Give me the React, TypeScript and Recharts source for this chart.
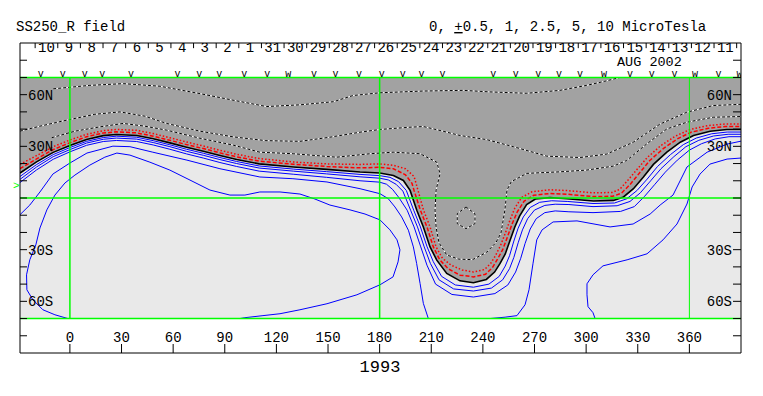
import React from "react";
import {
  ComposedChart,
  XAxis,
  YAxis,
  Line,
  Area,
  Scatter,
  ReferenceArea,
  ReferenceLine,
} from "recharts";

const MONO = '"Liberation Mono", "DejaVu Sans Mono", monospace';

type Pt = [number, number];

// Carrington longitude / latitude of each contour
const neutralLine: Pt[] = [[-29,14.5],[-19.4,21],[-9.7,26.5],[0,30.5],[9.7,34],[19.4,36.2],[27,36.9],[38.8,36.3],[48.4,34.4],[58.1,32],[67.8,29.5],[77.5,27.2],[87.2,24.7],[96.9,22.4],[110,19.8],[129.8,18],[149.2,16.6],[168.6,15.1],[180,14.5],[188,13.1],[193.8,10.2],[197.7,4.4],[201.6,-7.1],[205.4,-16.8],[209.3,-28.4],[213.2,-36.1],[219,-43.8],[226.7,-48.1],[234.5,-49.2],[242,-47.3],[246.8,-43],[250,-38],[253,-32.5],[255.8,-24.5],[258.5,-17],[261.3,-10.5],[265.4,-3.8],[270.5,-0.6],[279,0.2],[288.8,-0.4],[304.3,-1.7],[315.9,-1.4],[321.7,0.6],[327.5,5.4],[333.3,12.2],[339.1,19.5],[346.9,26.6],[354.7,32.4],[362.4,36.3],[372.1,38.8],[381.8,39.8],[390,39.8]];

const redInner: Pt[] = [[-29,17],[-19.4,22.7],[-9.7,28.1],[0,32.1],[9.7,35.6],[19.4,37.7],[27,38.4],[38.8,37.8],[48.4,35.9],[58.1,33.5],[67.8,31],[77.5,28.7],[87.2,26.2],[96.9,23.9],[110,21.4],[129.8,19.6],[149.2,18.3],[168.6,17.5],[180,17.8],[188,17],[195,13.5],[198.8,8.5],[200,4.4],[203.7,-7.1],[207.5,-16.8],[211.2,-28.4],[215,-36],[220,-41.2],[226.7,-44.8],[234.5,-45.8],[241.5,-44.3],[245.5,-40.5],[248.5,-35.5],[251.5,-30],[254.3,-22.5],[257,-15],[260,-8],[264,-1.8],[269.5,1.6],[279,2.6],[289,2.2],[304,0.8],[315.5,1],[320.5,2.8],[325.5,7.8],[331,14.5],[337,21.8],[345,28.8],[353,34.3],[361,38.2],[371,40.5],[381,41.5],[390,41.5]];

const redOuter: Pt[] = [[-29,19.5],[-19.4,24.6],[-9.7,29.8],[0,33.7],[9.7,37],[19.4,39.1],[27,39.8],[38.8,39.3],[48.4,37.4],[58.1,35],[67.8,32.5],[77.5,30.2],[87.2,27.7],[96.9,25.4],[110,22.9],[129.8,20.9],[149.2,19.8],[168.6,19.5],[180,19.8],[188,19],[195,17],[200,12.5],[202.3,4.4],[205.5,-7.1],[209.3,-16.8],[212.8,-28.4],[216.5,-35],[221.5,-39],[228,-41.8],[234.5,-43],[241,-41.5],[244.5,-38],[247.3,-33.5],[250.3,-27.5],[253,-20.5],[255.7,-13],[258.5,-6],[262.5,0.3],[268.5,3.6],[279,4.8],[289,4.3],[304,3],[315,3.2],[319.5,5],[324,10],[329.5,16.5],[335.5,23.5],[343.5,30.5],[352,36],[360.5,39.8],[370.5,42],[381,43],[390,43]];

const blue1: Pt[] = [[-29,12.5],[-19.4,19.4],[-9.7,25.2],[0,29.3],[9.7,32.9],[19.4,35.1],[27,35.9],[38.8,35.3],[48.4,33.3],[58.1,30.9],[67.8,28.3],[77.5,26],[87.2,23.5],[96.9,21.2],[110,18.6],[129.8,16.8],[149.2,15.3],[168.6,13.7],[180,13],[186,12],[191,9.5],[195.5,4.4],[199.8,-7.1],[203.7,-16.8],[207.6,-28.4],[211.2,-37],[216,-45.5],[224,-50.5],[234.5,-51.8],[243.5,-50],[249.5,-45.5],[253,-39.5],[255.5,-33.5],[258,-25],[260.5,-17.5],[263.5,-11],[267.5,-5.5],[273,-2.5],[280,-1.6],[289,-2],[304,-3.2],[316.5,-2.9],[323.5,-0.5],[329.5,4.3],[335.5,11],[341.5,18.3],[349,25.2],[356.5,31],[364,34.8],[373,37.3],[382,38.3],[390,38.3]];

const blue2: Pt[] = [[-29,10.8],[-19.4,18],[-9.7,24],[0,28.1],[9.7,31.9],[19.4,34.1],[27,34.8],[38.8,34.2],[48.4,32.2],[58.1,29.8],[67.8,27.1],[77.5,24.8],[87.2,22.3],[96.9,20],[110,17.4],[129.8,15.6],[149.2,14],[168.6,12.3],[180,11.5],[185,10.5],[189.5,8],[193.5,4],[198,-7.1],[202,-16.8],[205.9,-28.4],[209.5,-38],[214.5,-47.5],[223,-52.8],[234.5,-54],[245,-52.3],[251.5,-47.5],[255.5,-41],[258,-34.5],[260.5,-26],[263,-18.5],[266,-12],[270,-7],[276,-4.3],[282,-3.6],[290,-3.8],[304,-5],[318,-4.5],[325.5,-2],[331.5,3],[337.5,10],[343.5,17],[351,24],[358,29.8],[365.5,33.5],[374,36],[382.5,37],[390,37]];

const blue3: Pt[] = [[-29,9],[-19.4,16.3],[-9.7,22.5],[0,26.8],[9.7,30.6],[19.4,32.8],[27,33.4],[38.8,32.8],[48.4,30.8],[58.1,28.3],[67.8,25.6],[77.5,23.2],[87.2,20.6],[96.9,18.3],[110,15.6],[129.8,13.8],[149.2,12],[168.6,10],[180,9.2],[184,8],[187.5,5],[191,0.5],[196,-7.1],[200,-16.8],[203.9,-28.4],[207.5,-39],[212.5,-50],[222,-56],[234.5,-57.5],[247,-55.5],[254.5,-50.5],[259,-43],[262,-35],[264.5,-26.5],[267.5,-18],[271,-12],[276,-8.5],[282,-7.5],[290,-8],[304,-8.5],[320,-7.8],[328,-5],[334,1],[340,8],[346,15],[353,22],[360,27.8],[367,31.5],[375,34.3],[383,35.6],[390,35.6]];

const blue4: Pt[] = [[-29.1,-9.8],[-23.3,-4.1],[-17.4,3.5],[-9.9,13.9],[0,20.3],[9.9,26.1],[25,30.1],[34.9,29.8],[48.2,26.6],[68,22],[87.2,17],[110.4,12.2],[129.6,11.2],[149.4,9.3],[168.6,5.4],[180.2,2.5],[185,-0.4],[188.9,-5.2],[192.8,-11],[196.7,-18.7],[199.6,-28.4],[201.5,-38],[203.5,-49.6],[205.4,-61.2],[208.3,-70]];

const blue5: Pt[] = [[-1.2,-70],[-8.7,-67.8],[-15.7,-64.9],[-21.5,-59.1],[-25,-53.3],[-25.2,-44.6],[-23.3,-35.9],[-19.8,-27.2],[-17.4,-17.4],[-13.4,-6.9],[-8.7,1.7],[-2.9,8.7],[2.9,13.3],[11.6,19.1],[20.3,23.7],[27.3,26.1],[34.9,24.9],[46.5,20.8],[58.1,16.2],[69.8,10.4],[81.4,4.6],[93,1.7],[101.7,1.7],[110.4,3.5],[122.1,3.5],[133.7,2.3],[142.4,-0.6],[151.1,-4.1],[162.8,-6.9],[171.5,-9.3],[180.2,-12.7],[186,-18.5],[190.1,-24.3],[191.8,-30.1],[190.7,-37.1],[187.8,-45.8],[180.2,-50.4],[166.8,-56.2],[149.4,-61.4],[133.7,-64.9],[122.1,-67.2],[112.2,-68.3],[101.7,-69.5],[98.8,-70]];

const blue6: Pt[] = [[244.1,-70],[252.9,-69.2],[259.8,-68.3],[264.5,-62],[266.8,-53.3],[269.1,-38.2],[271.3,-24.3],[274.4,-18.5],[280.8,-13.9],[294.7,-13.3],[313.9,-16.8],[327.3,-15.1],[337.2,-9.3],[343,-4.1],[350.5,1.7],[358.6,18],[370.3,26.6],[381.9,31.3],[390,33]];

const blue7: Pt[] = [[305.2,-70],[304,-66.6],[301.1,-63.1],[300.5,-56.2],[300.5,-49.8],[304,-44.6],[309.8,-39.4],[323.8,-35.9],[335.4,-32.4],[344.7,-24.3],[352.8,-15.1],[358.6,-3.5],[361.6,6.4],[366.2,13.9],[372,19.7],[381.9,22.6],[390,23.2]];

const dash1: Pt[] = [[-10.6,35],[2.9,38.8],[17.4,41.3],[31,43.3],[43.6,41.7],[56.2,39.4],[75.6,34.7],[94.9,30.7],[110.4,26.6],[129.8,25.7],[155,23.7],[174.4,25.7],[187.9,26.6],[203.5,25.7],[213.2,20.8],[215.1,14.1],[212.8,4.6],[212.2,-7],[212.8,-17],[214.5,-26],[219,-33.1],[226,-35.5],[234,-35.8],[242.2,-31.5],[247.5,-26],[250.5,-20.4],[252.8,-6.9],[254,4.6],[256.5,9.5],[265.5,14.3],[284.8,15.2],[300.3,16.2],[315.8,18.5],[323.6,21.8],[335.2,31.4],[346.9,40.1],[358.5,44],[373.9,46.9],[390,47.3]];

const dash2: Pt[] = [[-29.1,38.8],[-17.4,41.7],[-1.9,45.2],[14.5,48.6],[29.1,50],[43.6,47.5],[56.2,43.3],[75.6,38.8],[94.9,35.5],[113.9,33.3],[133.7,32.9],[151.1,35.3],[168.6,38.2],[180.2,39.8],[197.6,41.1],[205.4,41.5],[215.1,39.2],[226.7,36.3],[242.2,33.9],[257.7,29.8],[277.1,24.3],[296.5,23.5],[312,25.5],[327.4,32.4],[342.9,42.9],[358.5,49.8],[373.9,53.7],[390,54.4]];

const dash3: Pt[] = [[-9.7,63.4],[11.6,65.4],[31,66.4],[52.3,64.9],[75.6,60.6],[94.8,56.8],[114.3,53.1],[133.7,54.1],[153.1,55.9],[164.5,59.5],[180.2,61.1],[205.4,62.1],[228.6,62.5],[244.1,61.6],[265.5,60.8],[284.8,62.5],[300.3,65.4],[310.9,67.8],[319.7,70]];

const dashLoop: Pt[] = [[230.2,-5.2],[235.4,-9.1],[235.4,-14.9],[230.2,-17.8],[225.1,-14.9],[225.1,-9.1],[230.2,-5.2]];

// observation markers above the map
const markLon = [-17, -4.2, 8.7, 18.8, 35.5, 62.6, 75.2, 86.8, 101.3, 114.7, 126.9, 141.8, 154.4, 168, 181.2, 193.4, 204.4, 216.6, 246.1, 259.1, 272.2, 284.3, 296.5, 310.4, 325.5, 338.1, 351.3, 363.3, 376.9, 389.1];
const markChar = ["v","v","v","v","v","v","v","v","v","v","w","v","v","v","v","v","v","v","v","v","v","v","v","w","v","v","v","w","v","w"];
const markLat = 70.4;

const lonTicks = [0, 30, 60, 90, 120, 150, 180, 210, 240, 270, 300, 330, 360];
const latTicks = [-80, -70, -60, -50, -40, -30, -20, -10, 0, 10, 20, 30, 40, 50, 60, 70, 80];
const latNames: Record<string, string> = { "60": "60N", "30": "30N", "-30": "30S", "-60": "60S" };

// day-of-month strip along the top (Aug/Sep 2002)
const dayBounds = [-20.2, -7.05, 6.1, 19.25, 32.4, 45.56, 58.71, 71.86, 85.01, 98.16, 111.31, 124.46, 137.61, 150.76, 163.91, 177.07, 190.22, 203.37, 216.52, 229.67, 242.82, 255.97, 269.12, 282.27, 295.42, 308.58, 321.73, 334.88, 348.03, 361.18, 374.33, 387.48];
const dayCenters = [-13.6, -0.5, 12.7, 25.8, 39.0, 52.1, 65.3, 78.4, 91.6, 104.7, 117.9, 131.0, 144.2, 157.3, 170.5, 183.6, 196.8, 209.9, 223.1, 236.2, 249.4, 262.5, 275.7, 288.8, 302.0, 315.1, 328.3, 341.4, 354.6, 367.7, 380.9];
const dayLabels = ["10","9","8","7","6","5","4","3","2","1","31","30","29","28","27","26","25","24","23","22","21","20","19","18","17","16","15","14","13","12","11"];
const dayLabelLat = 84.9;
const dayTickTop = 90;
const dayTickBottom = 87;

const rows = (pts: Pt[]) => pts.map(([lon, lat]) => ({ lon, lat }));
const markers = markLon.map((lon, i) => ({ lon, lat: markLat, ch: markChar[i] }));
const days = dayCenters.map((lon, i) => ({ lon, lat: dayLabelLat, ch: dayLabels[i] }));

const dashed = [dash1, dash2, dash3, dashLoop];
const blues = [blue1, blue2, blue3, blue4, blue5, blue6, blue7];

const GREEN = "#00ff00";

const TextShape = (size: number) => (props: any) => (
  <text x={props.cx} y={props.cy} textAnchor="middle" fontSize={size} fontFamily={MONO} fill="#000">
    {props.payload.ch}
  </text>
);

const tickStyle = { fontSize: 14, fontFamily: MONO, fill: "#000" };

export default function App() {
  return (
    <div style={{ position: "absolute", left: 0, top: 0, width: 763, height: 396, background: "#fff" }}>
      <ComposedChart width={763} height={396} margin={{ top: 43, right: 22, bottom: 43, left: 20 }}>
        <XAxis
          xAxisId="b"
          type="number"
          dataKey="lon"
          domain={[-29, 390]}
          allowDataOverflow
          orientation="bottom"
          mirror
          ticks={lonTicks}
          interval={0}
          tickSize={9}
          tickMargin={2}
          tick={tickStyle}
          axisLine={{ stroke: "#000" }}
          tickLine={{ stroke: "#000" }}
        />
        <YAxis
          yAxisId="l"
          type="number"
          dataKey="lat"
          domain={[-90, 90]}
          allowDataOverflow
          orientation="left"
          mirror
          ticks={latTicks}
          interval={0}
          tickSize={7}
          tickMargin={1}
          tick={tickStyle}
          tickFormatter={(v: number) => latNames[String(v)] ?? ""}
          axisLine={{ stroke: "#000" }}
          tickLine={{ stroke: "#000" }}
        />
        <YAxis
          yAxisId="r"
          type="number"
          domain={[-90, 90]}
          allowDataOverflow
          orientation="right"
          mirror
          ticks={latTicks}
          interval={0}
          tickSize={8}
          tickMargin={1}
          tick={tickStyle}
          tickFormatter={(v: number) => latNames[String(v)] ?? ""}
          axisLine={{ stroke: "#000" }}
          tickLine={{ stroke: "#000" }}
        />

        <ReferenceArea xAxisId="b" yAxisId="l" x1={-29} x2={390} y1={-70} y2={70} fill="#e9e9e9" fillOpacity={1} stroke="none" />
        <Area
          xAxisId="b"
          yAxisId="l"
          data={rows(neutralLine)}
          dataKey="lat"
          type="linear"
          baseValue={70}
          fill="#a2a2a2"
          fillOpacity={1}
          stroke="none"
          isAnimationActive={false}
        />

        {dashed.map((pts, i) => (
          <Line key={"w" + i} xAxisId="b" yAxisId="l" data={rows(pts)} dataKey="lat" type="linear"
            stroke="#fff" strokeWidth={1} dot={false} activeDot={false} isAnimationActive={false} />
        ))}
        {dashed.map((pts, i) => (
          <Line key={"d" + i} xAxisId="b" yAxisId="l" data={rows(pts)} dataKey="lat" type="linear"
            stroke="#000" strokeWidth={1} strokeDasharray="3 2" dot={false} activeDot={false} isAnimationActive={false} />
        ))}
        <Line xAxisId="b" yAxisId="l" data={rows(redOuter)} dataKey="lat" type="linear"
          stroke="#ff0000" strokeWidth={1.5} strokeDasharray="1.5 2" dot={false} activeDot={false} isAnimationActive={false} />
        <Line xAxisId="b" yAxisId="l" data={rows(redInner)} dataKey="lat" type="linear"
          stroke="#ff0000" strokeWidth={1.5} strokeDasharray="4 2" dot={false} activeDot={false} isAnimationActive={false} />
        {blues.map((pts, i) => (
          <Line key={"b" + i} xAxisId="b" yAxisId="l" data={rows(pts)} dataKey="lat" type="linear"
            stroke="#0000ff" strokeWidth={1} dot={false} activeDot={false} isAnimationActive={false} />
        ))}
        <Line xAxisId="b" yAxisId="l" data={rows(neutralLine)} dataKey="lat" type="linear"
          stroke="#000" strokeWidth={1.6} dot={false} activeDot={false} isAnimationActive={false} />

        <ReferenceLine xAxisId="b" yAxisId="l" y={70} stroke={GREEN} strokeWidth={1.5} />
        <ReferenceLine xAxisId="b" yAxisId="l" y={0} stroke={GREEN} strokeWidth={1.5} />
        <ReferenceLine xAxisId="b" yAxisId="l" y={-70} stroke={GREEN} strokeWidth={1.5} />
        <ReferenceLine xAxisId="b" yAxisId="l" segment={[{ x: 0, y: -70 }, { x: 0, y: 70 }]} stroke={GREEN} strokeWidth={1.5} />
        <ReferenceLine xAxisId="b" yAxisId="l" segment={[{ x: 180, y: -70 }, { x: 180, y: 70 }]} stroke={GREEN} strokeWidth={1.5} />
        <ReferenceLine xAxisId="b" yAxisId="l" segment={[{ x: 360, y: -70 }, { x: 360, y: 70 }]} stroke={GREEN} strokeWidth={1} />

        <ReferenceLine xAxisId="b" yAxisId="l" y={90} stroke="#000" strokeWidth={1} />
        {dayBounds.map((lon) => (
          <ReferenceLine key={"db" + lon} xAxisId="b" yAxisId="l"
            segment={[{ x: lon, y: dayTickTop }, { x: lon, y: dayTickBottom }]} stroke="#000" strokeWidth={1} />
        ))}

        <Scatter xAxisId="b" yAxisId="l" data={markers} shape={TextShape(10)} isAnimationActive={false} />
        <Scatter xAxisId="b" yAxisId="l" data={days} shape={TextShape(14)} isAnimationActive={false} />
      </ComposedChart>

      <svg style={{ position: "absolute", left: 0, top: 0 }} width={763} height={396}>
        <g fontFamily={MONO} fontSize={14} fill="#000">
          <text x={16} y={31}>SS250_R field</text>
          <text x={429} y={31} xmlSpace="preserve">
            0, <tspan textDecoration="underline">+</tspan>0.5, 1, 2.5, 5, 10 MicroTesla
          </text>
          <text x={617} y={65.5} fontSize={13.5}>AUG 2002</text>
          <text x={380} y={372} fontSize={17} textAnchor="middle">1993</text>
        </g>
        <text x={13} y={189} fontFamily={MONO} fontSize={11} fill={GREEN}>&gt;</text>
      </svg>
    </div>
  );
}
